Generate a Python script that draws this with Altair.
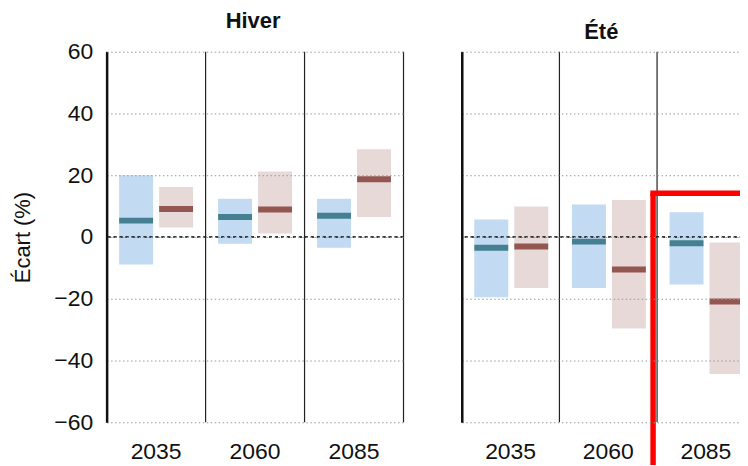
import altair as alt
import pandas as pd

# ---- data ----
years = ["2035", "2060", "2085"]
series = ["A", "B"]

hiver_a_low = [-8.9, -2.2, -3.5]
hiver_a_high = [20.0, 12.4, 12.4]
hiver_a_med = [5.3, 6.5, 6.9]
hiver_b_low = [3.1, 1.1, 6.5]
hiver_b_high = [16.2, 21.2, 28.4]
hiver_b_med = [9.1, 8.9, 18.7]

ete_a_low = [-19.5, -16.5, -15.4]
ete_a_high = [5.7, 10.5, 8.0]
ete_a_med = [-3.5, -1.5, -2.0]
ete_b_low = [-16.5, -29.6, -44.4]
ete_b_high = [9.9, 12.0, -1.8]
ete_b_med = [-3.1, -10.5, -20.9]

y_ticks = [-60, -40, -20, 0, 20, 40, 60]
highlight_year = "2085"
highlight_top = 14.2

FONT = "Liberation Sans"
box_colors = ["#c2daf2", "#e8d9d9"]
med_colors = ["#457f92", "#935651"]

H = 372
HIVER_W = 298
ETE_W = 294
EXT = 80  # how far the highlight frame runs past the visible edge


def frame(la, ha, ma, lb, hb, mb):
    rows = []
    for i, yr in enumerate(years):
        rows.append({"year": yr, "serie": "A", "low": la[i], "high": ha[i], "med": ma[i]})
        rows.append({"year": yr, "serie": "B", "low": lb[i], "high": hb[i], "med": mb[i]})
    return pd.DataFrame(rows)


df_hiver = frame(hiver_a_low, hiver_a_high, hiver_a_med, hiver_b_low, hiver_b_high, hiver_b_med)
df_ete = frame(ete_a_low, ete_a_high, ete_a_med, ete_b_low, ete_b_high, ete_b_med)
df_years = pd.DataFrame({"year": years})


def panel(df, title, width, show_y, highlight, title_dx):
    x_scale = alt.Scale(domain=years, paddingInner=0, paddingOuter=0)
    off_scale = alt.Scale(domain=series, paddingInner=0.15, paddingOuter=0.3125)
    y_scale = alt.Scale(domain=[-60, 60], nice=False, zero=False)
    x_axis = alt.Axis(title=None, labelAngle=0, domain=False, ticks=False, grid=False,
                      labelFontSize=23, labelPadding=18, labelColor="#111")
    y_axis = alt.Axis(values=y_ticks, title="Écart (%)" if show_y else None, labels=show_y,
                      domain=True, domainColor="#111", domainWidth=2.5, ticks=False,
                      grid=True, gridColor="#9a9a9a", gridDash=[1.5, 2.5], gridWidth=1,
                      labelFontSize=23, labelColor="#111", labelPadding=14,
                      titleFontSize=22, titleFontWeight="normal", titleColor="#111",
                      titlePadding=19, zindex=1, labelExpr="replace(datum.label, '-', '−')")

    base = alt.Chart(df)
    xo = alt.XOffset("serie:N", scale=off_scale)
    xe = alt.X("year:N", scale=x_scale, sort=years, axis=x_axis)
    boxes = base.mark_bar(opacity=1).encode(
        x=xe, xOffset=xo,
        y=alt.Y("low:Q", scale=y_scale, axis=y_axis),
        y2="high:Q",
        color=alt.Color("serie:N", scale=alt.Scale(domain=series, range=box_colors), legend=None),
    )
    meds = base.mark_tick(thickness=6, size=34, opacity=1).encode(
        x=xe, xOffset=xo,
        y=alt.Y("med:Q", scale=y_scale, axis=y_axis),
        color=alt.Color("serie:N", scale=alt.Scale(domain=series, range=med_colors), legend=None),
    )
    sep = alt.Chart(df_years).mark_rule(color="#222", strokeWidth=1.2).encode(
        x=alt.X("year:N", scale=x_scale, sort=years, axis=x_axis, bandPosition=0),
    )
    sep_end = alt.Chart(df_years).transform_filter(
        alt.datum.year == years[-1]
    ).mark_rule(color="#222", strokeWidth=1.2).encode(
        x=alt.X("year:N", scale=x_scale, sort=years, axis=x_axis, bandPosition=1),
    )
    zero = alt.Chart(df_years).mark_rule(color="#222", strokeDash=[3, 3], strokeWidth=1).encode(
        y=alt.Y(datum=0, scale=y_scale, axis=y_axis),
    )
    layers = [sep, sep_end, boxes, meds, zero]
    if highlight:
        hl = alt.Chart(df_years).transform_filter(alt.datum.year == highlight_year)
        top = hl.mark_rule(color="#ff0000", strokeWidth=5.5, xOffset=-6.75, clip=False).encode(
            x=alt.X(datum=highlight_year, scale=x_scale, axis=x_axis, bandPosition=0),
            x2=alt.value(width + EXT),
            y=alt.Y(datum=highlight_top, scale=y_scale, axis=y_axis),
        )
        left = hl.mark_rule(color="#ff0000", strokeWidth=5.5, xOffset=-4, clip=False).encode(
            x=alt.X(datum=highlight_year, scale=x_scale, axis=x_axis, bandPosition=0),
            y=alt.Y(datum=highlight_top, scale=y_scale, axis=y_axis),
            y2=alt.value(H + EXT),
        )
        layers += [top, left]
    return alt.layer(*layers).resolve_scale(color="independent").properties(
        width=width, height=H,
        title=alt.TitleParams(title, fontSize=22, fontWeight="bold", font=FONT, color="#111",
                              offset=7.6, dx=title_dx),
    )


hiver = panel(df_hiver, "Hiver", HIVER_W, True, False, -2)
ete = panel(df_ete, "Été", ETE_W, False, True, -7)

# negative right/bottom padding crops the frame that runs past the visible edge
chart = alt.hconcat(hiver, ete, spacing=56.5).properties(
    padding={"left": 3, "top": 1, "right": -98.25, "bottom": -40.75}
).configure(font=FONT).configure_view(stroke=None)

chart.save("out.html", embed_options={"renderer": "svg", "actions": False})
